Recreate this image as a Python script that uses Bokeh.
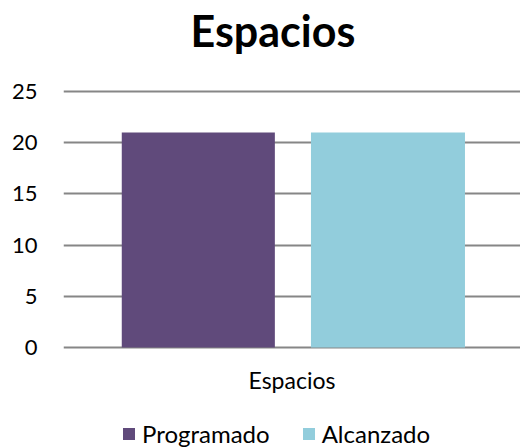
from bokeh.plotting import figure
from bokeh.models import FactorRange, Range1d, FixedTicker, Legend, LegendItem, ColumnDataSource, Label
from bokeh.transform import dodge
from bokeh.embed import file_html
from bokeh.resources import INLINE

categories = ["Espacios"]
series_names = ["Programado", "Alcanzado"]
programado = [21]
alcanzado = [21]
y_ticks = [0, 5, 10, 15, 20, 25]
colors = ["#604A7B", "#92CDDC"]
title_text = "Espacios"
FONT = "Lato"

W, H = 520, 448
LEFT = 63
Y0_PX, Y25_PX = 347, 91           # pixel rows of value 0 and value 25
PX_PER_UNIT = (Y0_PX - Y25_PX) / 25.0
y_lo = -(H - Y0_PX) / PX_PER_UNIT
y_hi = 25 + Y25_PX / PX_PER_UNIT

src = ColumnDataSource(dict(cat=categories, programado=programado, alcanzado=alcanzado))

p = figure(width=W, height=H, output_backend="svg", toolbar_location=None,
           x_range=FactorRange(factors=categories, range_padding=0),
           y_range=Range1d(y_lo, y_hi),
           min_border_left=LEFT, min_border_right=0, min_border_top=0, min_border_bottom=0)
p.outline_line_color = None
p.background_fill_color = "white"
p.border_fill_color = "white"

r1 = p.vbar(x=dodge("cat", -0.205, range=p.x_range), top="programado", width=0.335, source=src,
            fill_color=colors[0], line_color=None)
r2 = p.vbar(x=dodge("cat", 0.21, range=p.x_range), top="alcanzado", width=0.337, source=src,
            fill_color=colors[1], line_color=None)

p.xaxis.visible = False
p.xgrid.grid_line_color = None

p.yaxis.ticker = FixedTicker(ticks=y_ticks)
p.yaxis.axis_line_color = None
p.yaxis.major_tick_line_color = None
p.yaxis.minor_tick_line_color = None
p.yaxis.major_tick_out = 0
p.yaxis.major_label_standoff = 26
p.yaxis.major_label_text_font = FONT
p.yaxis.major_label_text_font_size = "22px"
p.yaxis.major_label_text_color = "black"

p.ygrid.ticker = FixedTicker(ticks=y_ticks)
p.ygrid.grid_line_color = "#868686"
p.ygrid.grid_line_width = 2

title = Label(x=127, y=H - 30, x_units="screen", y_units="screen", text=title_text,
              text_font=FONT, text_font_size="43px", text_font_style="bold",
              text_color="black", text_align="left", text_baseline="alphabetic")
p.add_layout(title)

cat_label = Label(x=(W - LEFT) / 2, y=H - 379, x_units="screen", y_units="screen", text=categories[0],
                  text_font=FONT, text_font_size="23px", text_color="black",
                  text_align="center", text_baseline="alphabetic")
p.add_layout(cat_label)

legend = Legend(items=[LegendItem(label=series_names[0], renderers=[r1]),
                       LegendItem(label=series_names[1], renderers=[r2])],
                orientation="horizontal", location=(58, 0),
                glyph_width=15, glyph_height=15, label_standoff=6, spacing=31,
                padding=0, margin=0, border_line_color=None, background_fill_alpha=0,
                label_text_font=FONT, label_text_font_size="24px", label_text_color="black")
p.add_layout(legend, "center")

open("out.html", "w").write(file_html(p, INLINE))
